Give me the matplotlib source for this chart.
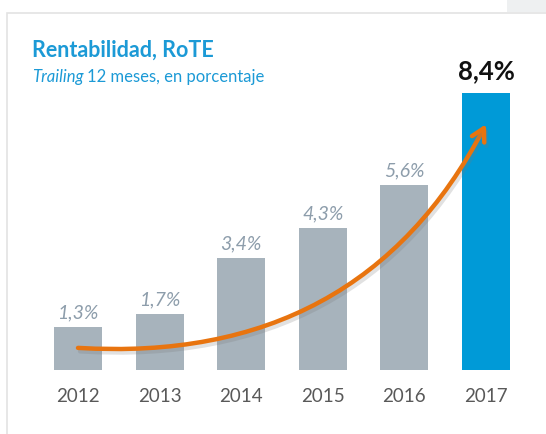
import matplotlib
matplotlib.use("Agg")
import matplotlib.pyplot as plt
from matplotlib.patches import FancyArrowPatch, Rectangle
from matplotlib.path import Path
import matplotlib.patheffects as pe

plt.rcParams['font.family'] = ['Lato', 'DejaVu Sans']

years = ["2012", "2013", "2014", "2015", "2016", "2017"]
rote = [1.3, 1.7, 3.4, 4.3, 5.6, 8.4]
labels = ["1,3%", "1,7%", "3,4%", "4,3%", "5,6%", "8,4%"]

W, H = 546, 434
fig = plt.figure(figsize=(W / 100, H / 100), dpi=100)
ax = fig.add_axes([0, 0, 1, 1])

# map data to pixels: bar i centre at 78 + 81.6*i px, baseline at 370 px, 33 px per point
step, x0, base, ppu = 81.6, 78, 370, 33.0
ax.set_xlim(-x0 / step, (W - x0) / step)
ax.set_ylim(-(H - base) / ppu, base / ppu)
ax.axis("off")

# card frame and grey tab top-right
fig.patches.append(Rectangle((7 / W, -0.1), 1.2, 1 - 13 / H + 0.1, transform=fig.transFigure,
                             fill=False, edgecolor="#E3E3E3", lw=1.2))
fig.patches.append(Rectangle((507 / W, 1 - 12 / H), 1, 12 / H, transform=fig.transFigure,
                             facecolor="#EEF0F1", edgecolor="none"))

colors = ["#A7B3BC"] * 5 + ["#009AD7"]
x = range(len(years))
ax.bar(x, rote, width=48 / step, color=colors, zorder=2)

for i, v in enumerate(rote[:-1]):
    ax.annotate(labels[i], (i, v), xytext=(0, 4), textcoords="offset points",
                ha="center", va="bottom", fontsize=14, style="italic", color="#8D9DAB")
ax.annotate(labels[-1], (5, rote[-1]), xytext=(0, 7), textcoords="offset points",
            ha="center", va="bottom", fontsize=18.5, fontweight="bold", color="#111111")

for i, y in enumerate(years):
    ax.text(i, -27 / ppu, y, ha="center", va="center", fontsize=13.5, color="#595959")

# orange growth arrow
verts = [(0, 0.67), (3.46, 0.15), (5.0, 7.45)]
arrow = FancyArrowPatch(path=Path(verts, [Path.MOVETO, Path.CURVE3, Path.CURVE3]),
                        arrowstyle="->,head_length=9,head_width=5", color="#E8740F",
                        lw=3.2, zorder=3, capstyle="round", joinstyle="round")
arrow.set_path_effects([pe.SimpleLineShadow(offset=(1.5, -2.5), shadow_color="#777777", alpha=0.22),
                        pe.Normal()])
ax.add_patch(arrow)

fig.text(32 / W, 1 - 50 / H, "Rentabilidad, RoTE", fontsize=15.5, fontweight="bold",
         color="#1C9AD6", va="center", ha="left")
t = fig.text(32 / W, 1 - 77 / H, "Trailing", fontsize=12, style="italic",
             color="#1C9AD6", va="center", ha="left")
fig.canvas.draw()
bb = t.get_window_extent()
fig.text(bb.x1 / W + 3.5 / W, 1 - 77 / H, "12 meses, en porcentaje", fontsize=12,
         color="#1C9AD6", va="center", ha="left")

fig.savefig("out.png", dpi=100)
